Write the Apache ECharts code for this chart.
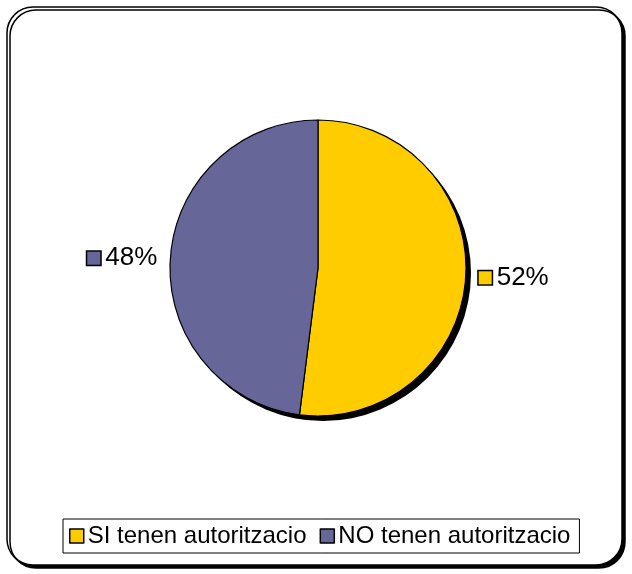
<!DOCTYPE html>
<html><head><meta charset="utf-8">
<script src="https://cdn.jsdelivr.net/npm/echarts@6/dist/echarts.min.js"></script>
<style>html,body{margin:0;padding:0;background:#fff}#c{width:632px;height:574px}</style>
</head><body><div id="c"></div>
<script>
const categories = ['SI tenen autoritzacio', 'NO tenen autoritzacio'];
const values = [52, 48];
const colors = ['#FFCC00', '#666699'];

const chart = echarts.init(document.getElementById('c'), null, {renderer: 'canvas'});
const font = '"Liberation Sans", Arial, sans-serif';
chart.setOption({
  backgroundColor: '#fff',
  animation: false,
  graphic: [{
    type: 'rect', z: -10,
    shape: {x: 7, y: 7, width: 615, height: 558, r: 26},
    style: {fill: '#fff', stroke: '#000', lineWidth: 1.5, shadowColor: '#000', shadowOffsetX: 3, shadowOffsetY: 3, shadowBlur: 0}
  }],
  legend: {
    data: categories,
    left: 63, top: 519,
    orient: 'horizontal',
    borderColor: '#000', borderWidth: 1,
    padding: [5, 9, 5, 6],
    itemWidth: 14, itemHeight: 14, itemGap: 13,
    icon: 'rect',
    itemStyle: {borderColor: '#000', borderWidth: 1.5},
    textStyle: {color: '#000', fontSize: 24, fontFamily: font, padding: [2, 0, 0, -1]},
    selectedMode: false
  },
  series: [{
    type: 'pie', silent: true, z: 1,
    center: [323, 273], radius: 148,
    data: [{value: 1, itemStyle: {color: '#000'}}],
    label: {show: false}, labelLine: {show: false}
  }, {
    type: 'pie', z: 2,
    center: [318, 268], radius: 148,
    startAngle: 90, clockwise: true,
    data: categories.map((n, i) => ({name: n, value: values[i], itemStyle: {color: colors[i]}})),
    itemStyle: {borderColor: '#000', borderWidth: 1.2},
    label: {
      show: true, position: 'outside',
      formatter: p => '{k' + p.dataIndex + '|}{t|' + Math.round(p.percent) + '%}',
      rich: {
        k0: {width: 13, height: 13, backgroundColor: colors[0], borderColor: '#000', borderWidth: 1.5, align: 'center'},
        k1: {width: 13, height: 13, backgroundColor: colors[1], borderColor: '#000', borderWidth: 1.5, align: 'center'},
        t: {fontSize: 26, fontFamily: font, color: '#000', padding: [0, 0, 0, 5]}
      }
    },
    labelLine: {show: false, length: 8, length2: 0},
    emphasis: {disabled: true}
  }]
});
</script></body></html>
